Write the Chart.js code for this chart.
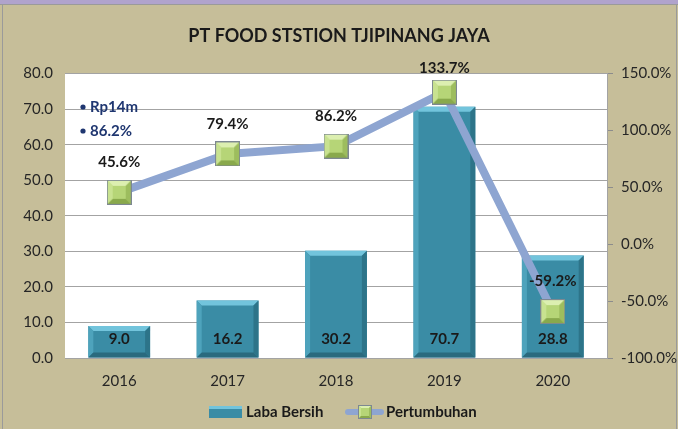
<!DOCTYPE html>
<html>
<head>
<meta charset="utf-8">
<script src="https://cdn.jsdelivr.net/npm/chart.js@4.4.0/dist/chart.umd.min.js"></script>
<style>
html, body { margin: 0; padding: 0; background: #c6be99; }
canvas { display: block; }
</style>
</head>
<body>
<canvas id="chart" width="678" height="429"></canvas>
<script>
// data
const years = ['2016', '2017', '2018', '2019', '2020'];
const labaBersih = [9.0, 16.2, 30.2, 70.7, 28.8];
const pertumbuhan = [45.6, 79.4, 86.2, 133.7, -59.2];
const leftTicks = [0, 10, 20, 30, 40, 50, 60, 70, 80];
const rightTicks = [-100, -50, 0, 50, 100, 150];
const notes = ['Rp14m', '86.2%'];

const FONT = 'Lato, "DejaVu Sans", sans-serif';
const TAN = '#c6be99';
const TEAL = '#3a8ca5';
const LINE = '#8ea5d1';

function poly(g, color, pts) {
    g.fillStyle = color;
    g.beginPath();
    g.moveTo(pts[0][0], pts[0][1]);
    for (let i = 1; i < pts.length; i++) g.lineTo(pts[i][0], pts[i][1]);
    g.closePath();
    g.fill();
}

// bevelled green square used as the line marker
function makeMarker(size, b) {
    const c = document.createElement('canvas');
    c.width = size; c.height = size;
    const g = c.getContext('2d');
    g.fillStyle = '#b6d577';
    g.fillRect(0, 0, size, size);
    poly(g, '#dcefb0', [[0, 0], [size, 0], [size - b, b], [b, b]]);
    poly(g, '#c8e290', [[0, 0], [b, b], [b, size - b], [0, size]]);
    poly(g, '#9dbd5e', [[size, 0], [size, size], [size - b, size - b], [size - b, b]]);
    poly(g, '#89a94c', [[0, size], [b, size - b], [size - b, size - b], [size, size]]);
    g.strokeStyle = '#7d8891';
    g.lineWidth = 1;
    g.strokeRect(0.5, 0.5, size - 1, size - 1);
    return c;
}
const marker = makeMarker(25, 6);
const smallMarker = makeMarker(14, 3);

const background = {
    id: 'background',
    beforeDraw(chart) {
        const { ctx, width, height, chartArea: a } = chart;
        ctx.save();
        ctx.fillStyle = TAN;
        ctx.fillRect(0, 0, width, height);
        ctx.fillStyle = '#b0a3cc';
        ctx.fillRect(0, 0, width, 4);
        ctx.fillStyle = '#9a9a9a';
        ctx.fillRect(0, 4, width, 1);
        ctx.fillRect(2, 4, 1, height - 4);
        ctx.fillRect(width - 2, 4, 1, height - 4);
        ctx.fillStyle = '#ffffff';
        ctx.fillRect(a.left, a.top, a.right - a.left, a.bottom - a.top);
        ctx.restore();
    }
};

// bevel on the bars, drawn right after the bar dataset so the line stays on top
const barBevel = {
    id: 'barBevel',
    afterDatasetDraw(chart, args) {
        if (args.meta.type !== 'bar') return;
        const ctx = chart.ctx;
        const b = 5;
        ctx.save();
        args.meta.data.forEach(bar => {
            const l = bar.x - bar.width / 2, r = bar.x + bar.width / 2;
            const t = bar.y, btm = bar.base;
            poly(ctx, '#72c4dc', [[l, t], [r, t], [r - b, t + b], [l + b, t + b]]);
            poly(ctx, '#4ea3bc', [[l, t], [l + b, t + b], [l + b, btm - b], [l, btm]]);
            poly(ctx, '#2d7489', [[r, t], [r, btm], [r - b, btm - b], [r - b, t + b]]);
            poly(ctx, '#2a6a7e', [[l, btm], [l + b, btm - b], [r - b, btm - b], [r, btm]]);
        });
        ctx.restore();
    }
};

const labels = {
    id: 'labels',
    afterDatasetsDraw(chart) {
        const ctx = chart.ctx;
        ctx.save();
        ctx.textAlign = 'center';
        ctx.textBaseline = 'middle';
        ctx.fillStyle = '#1a1a1a';
        ctx.font = 'bold 15px ' + FONT;
        const barMeta = chart.getDatasetMeta(1);
        barMeta.data.forEach((bar, i) => {
            ctx.fillText(labaBersih[i].toFixed(1), bar.x, bar.base - 18);
        });
        const lineMeta = chart.getDatasetMeta(0);
        lineMeta.data.forEach((pt, i) => {
            ctx.fillText(pertumbuhan[i].toFixed(1) + '%', pt.x, Math.max(pt.y - 30, 68));
        });
        ctx.restore();
    },
    afterDraw(chart) {
        const ctx = chart.ctx;
        ctx.save();
        // small notes in the upper left
        ctx.fillStyle = '#1f3670';
        ctx.font = 'bold 15px ' + FONT;
        ctx.textBaseline = 'middle';
        notes.forEach((t, i) => {
            const y = 107 + i * 24;
            ctx.beginPath();
            ctx.arc(83, y, 2.6, 0, Math.PI * 2);
            ctx.fill();
            ctx.fillText(t, 90, y);
        });
        // legend
        const ly = 412;
        ctx.fillStyle = TEAL;
        ctx.fillRect(209, ly - 6, 33, 12);
        ctx.fillStyle = '#72c4dc';
        ctx.fillRect(209, ly - 6, 33, 3);
        ctx.fillStyle = '#1a1a1a';
        ctx.fillText('Laba Bersih', 246, ly);
        ctx.strokeStyle = LINE;
        ctx.lineWidth = 6;
        ctx.lineCap = 'round';
        ctx.beginPath();
        ctx.moveTo(348, ly);
        ctx.lineTo(381, ly);
        ctx.stroke();
        ctx.drawImage(smallMarker, 358, ly - 7);
        ctx.fillStyle = '#1a1a1a';
        ctx.fillText('Pertumbuhan', 386, ly);
        ctx.restore();
    }
};

const tickFont = { family: FONT, size: 15 };

new Chart(document.getElementById('chart'), {
    data: {
        labels: years,
        datasets: [
            {
                type: 'line',
                label: 'Pertumbuhan',
                data: pertumbuhan,
                yAxisID: 'y1',
                borderColor: LINE,
                borderWidth: 8,
                pointStyle: marker,
                pointRadius: 13,
                tension: 0,
                order: 1
            },
            {
                type: 'bar',
                label: 'Laba Bersih',
                data: labaBersih,
                yAxisID: 'y',
                backgroundColor: TEAL,
                barPercentage: 0.57,
                categoryPercentage: 1,
                order: 2
            }
        ]
    },
    options: {
        responsive: false,
        animation: false,
        layout: { padding: { top: 0, left: 0, right: 0, bottom: 25 } },
        plugins: {
            legend: { display: false },
            tooltip: { enabled: false },
            title: {
                display: true,
                text: 'PT FOOD STSTION TJIPINANG JAYA',
                color: '#1a1a1a',
                font: { family: FONT, size: 18, weight: 'bold' },
                padding: { top: 25, bottom: 27 }
            }
        },
        scales: {
            x: {
                grid: { display: false, drawTicks: false },
                border: { display: false },
                ticks: { font: tickFont, color: '#262626', padding: 14 }
            },
            y: {
                position: 'left',
                min: leftTicks[0],
                max: leftTicks[leftTicks.length - 1],
                afterFit: s => { s.width = 65; },
                grid: { color: '#a3a3a3', drawTicks: false },
                border: { display: false },
                ticks: {
                    stepSize: leftTicks[1] - leftTicks[0],
                    font: tickFont,
                    color: '#262626',
                    padding: 12,
                    callback: v => v.toFixed(1)
                }
            },
            y1: {
                position: 'right',
                min: rightTicks[0],
                max: rightTicks[rightTicks.length - 1],
                afterFit: s => { s.width = 71; },
                grid: { drawOnChartArea: false, color: '#8c8c8c', tickLength: 6 },
                border: { display: true, color: '#a3a3a3' },
                ticks: {
                    stepSize: rightTicks[1] - rightTicks[0],
                    font: tickFont,
                    color: '#262626',
                    padding: 8,
                    callback: v => v.toFixed(1) + '%'
                }
            }
        }
    },
    plugins: [background, barBevel, labels]
});
</script>
</body>
</html>
